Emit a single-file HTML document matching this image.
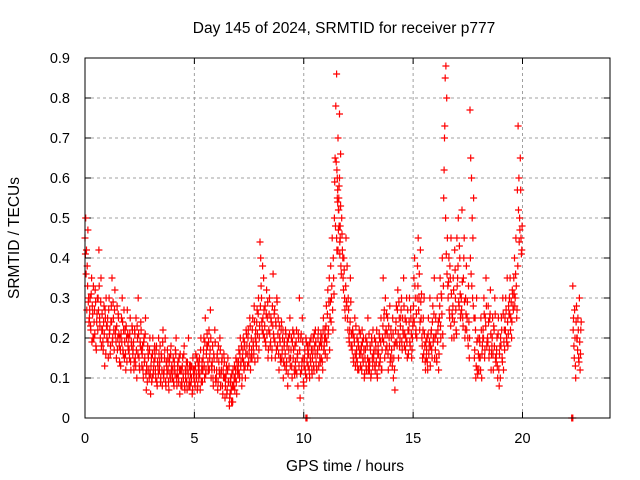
<!DOCTYPE html>
<html><head><meta charset="utf-8"><style>
body{margin:0;background:#fff;}
svg{display:block;font-family:"Liberation Sans",sans-serif;}
</style></head><body>
<svg id="chart" width="640" height="480" viewBox="0 0 640 480" xmlns="http://www.w3.org/2000/svg">
<rect width="640" height="480" fill="#fff"/>
<text x="344" y="33" font-size="15.5" text-anchor="middle">Day 145 of 2024, SRMTID for receiver p777</text>
<text transform="translate(19,238) rotate(-90)" font-size="15.5" text-anchor="middle">SRMTID / TECUs</text>
<text x="345" y="471" font-size="15.5" text-anchor="middle">GPS time / hours</text>
<g id="grid"></g>
<g id="ticks"></g>
<g id="points"></g>
<rect x="85" y="58" width="525" height="360" fill="none" stroke="#000" stroke-width="1"/>
</svg>
<script>
const xTicks=[0,5,10,15,20];
const yTicks=[0,0.1,0.2,0.3,0.4,0.5,0.6,0.7,0.8,0.9];
const yTickLabels=["0","0.1","0.2","0.3","0.4","0.5","0.6","0.7","0.8","0.9"];
const binStarts=[0,0.2,0.4,0.6,0.8,1.0,1.2,1.4,1.6,1.8,2.0,2.2,2.4,2.6,2.8,3.0,3.2,3.4,3.6,3.8,4.0,4.2,4.4,4.6,4.8,5.0,5.2,5.4,5.6,5.8,6.0,6.2,6.4,6.6,6.8,7.0,7.2,7.4,7.6,7.8,8.0,8.2,8.4,8.6,8.8,9.0,9.2,9.4,9.6,9.8,10.0,10.2,10.4,10.6,10.8,11.0,11.2,11.4,11.5,11.6,11.8,12.0,12.2,12.4,12.6,12.8,13.0,13.2,13.4,13.6,13.8,14.0,14.2,14.4,14.6,14.8,15.0,15.2,15.4,15.6,15.8,16.0,16.2,16.4,16.6,16.8,17.0,17.2,17.4,17.6,17.8,18.0,18.2,18.4,18.6,18.8,19.0,19.2,19.4,19.6,19.8,22.3,22.5];
const binValues=[
[.45,.5,.42,.38,.47,.3],[.25,.3,.22,.35,.28,.2],[.2,.27,.32,.18,.24,.3],[.3,.42,.25,.2,.35,.22],[.22,.17,.28,.13,.25,.3],
[.2,.25,.15,.3,.22,.18],[.28,.35,.2,.25,.17,.32],[.22,.15,.28,.2,.25,.18],[.2,.13,.25,.3,.17,.22],[.15,.22,.12,.2,.27,.18],
[.2,.15,.25,.12,.18,.22],[.17,.12,.22,.15,.25,.1],[.2,.3,.15,.12,.18,.22],[.13,.18,.1,.2,.15,.25],[.07,.12,.18,.15,.1,.2],
[.06,.15,.1,.2,.12,.17],[.15,.1,.18,.08,.13,.2],[.12,.18,.1,.15,.08,.22],[.1,.15,.2,.08,.13,.17],[.12,.07,.15,.1,.18,.13],
[.1,.15,.08,.12,.17,.2],[.08,.13,.1,.15,.06,.12],[.12,.08,.15,.1,.18,.07],[.1,.14,.07,.12,.2,.09],[.08,.13,.1,.06,.15,.11],
[.12,.08,.16,.1,.07,.14],[.1,.15,.07,.2,.12,.09],[.15,.2,.1,.25,.12,.18],[.18,.12,.22,.15,.27,.1],[.12,.18,.08,.15,.22,.1],
[.1,.15,.07,.18,.12,.2],[.08,.12,.15,.06,.1,.14],[.05,.1,.13,.07,.15,.09],[.03,.06,.1,.04,.08,.12],[.08,.13,.1,.15,.06,.12],
[.12,.17,.1,.2,.14,.08],[.15,.2,.12,.18,.1,.22],[.18,.13,.22,.16,.25,.12],[.2,.15,.25,.18,.28,.14],[.22,.18,.27,.15,.3,.2],
[.44,.4,.3,.22,.25,.35],[.2,.28,.18,.32,.25,.15],[.22,.3,.18,.25,.15,.28],[.36,.2,.27,.15,.23,.3],[.18,.25,.12,.2,.15,.22],
[.15,.2,.1,.18,.13,.22],[.12,.18,.08,.2,.15,.25],[.15,.2,.1,.22,.17,.12],[.18,.12,.22,.15,.08,.2],[.3,.05,.2,.12,.25,.15],
[.08,.15,.12,.2,.1,.18],[.13,.18,.1,.15,.2,.12],[.15,.2,.12,.18,.22,.14],[.12,.17,.22,.1,.15,.19],[.15,.2,.12,.25,.18,.22],
[.2,.28,.15,.32,.22,.35],[.25,.38,.3,.45,.22,.35],[.5,.65,.78,.45,.55,.7],[.86,.6,.42,.52,.76,.48],[.55,.6,.45,.38,.5,.42],
[.35,.4,.3,.25,.45,.28],[.25,.3,.2,.22,.35,.18],[.18,.22,.15,.2,.25,.13],[.15,.2,.12,.18,.22,.17],[.13,.18,.22,.15,.2,.1],
[.15,.2,.12,.18,.25,.14],[.12,.18,.1,.2,.15,.22],[.15,.2,.12,.17,.22,.1],[.18,.13,.2,.15,.25,.12],[.2,.35,.25,.15,.3,.22],
[.18,.25,.12,.2,.28,.15],[.2,.15,.25,.1,.18,.07],[.22,.28,.18,.32,.15,.25],[.2,.25,.3,.17,.22,.35],[.18,.25,.2,.3,.15,.22],
[.22,.3,.18,.25,.15,.2],[.25,.35,.4,.3,.22,.2],[.38,.45,.3,.22,.42,.25],[.2,.15,.25,.3,.18,.12],[.15,.2,.12,.25,.18,.3],
[.18,.22,.15,.28,.2,.35],[.2,.25,.15,.3,.22,.12],[.25,.35,.2,.3,.4,.18],[.55,.7,.85,.88,.8,.45],[.3,.4,.25,.35,.45,.2],
[.25,.35,.2,.42,.3,.22],[.45,.35,.5,.28,.4,.25],[.3,.52,.25,.35,.45,.2],[.3,.38,.25,.2,.33,.15],[.77,.65,.6,.5,.45,.55],
[.15,.25,.1,.3,.12,.2],[.12,.2,.15,.25,.1,.18],[.22,.3,.15,.25,.35,.18],[.2,.28,.15,.25,.32,.12],[.18,.25,.12,.22,.3,.15],
[.15,.2,.1,.25,.08,.18],[.2,.25,.15,.3,.12,.22],[.25,.3,.2,.35,.18,.28],[.3,.35,.25,.2,.32,.28],[.35,.4,.3,.45,.25,.57],
[.73,.6,.5,.65,.45,.42],[.33,.25,.15,.2,.1,.28],[.2,.25,.15,.3,.12,.22]];
const binValues2=[
[.41,.36,.27,.33,.29,.24],[.27,.23,.31,.19,.26,.33],[.24,.21,.29,.17,.26,.22],[.27,.33,.23,.29,.18,.26],[.19,.24,.21,.27,.16,.23],
[.23,.19,.27,.21,.16,.24],[.24,.19,.29,.22,.27,.21],[.19,.23,.17,.26,.21,.14],[.17,.21,.19,.24,.16,.27],[.19,.16,.23,.14,.21,.17],
[.17,.21,.14,.19,.23,.16],[.19,.14,.21,.13,.17,.23],[.16,.21,.13,.19,.24,.17],[.16,.12,.19,.14,.21,.11],[.13,.09,.16,.12,.17,.11],
[.13,.09,.16,.11,.14,.18],[.12,.17,.09,.14,.11,.16],[.14,.09,.16,.12,.19,.11],[.12,.17,.09,.14,.11,.15],[.09,.14,.11,.16,.12,.1],
[.12,.09,.14,.11,.16,.1],[.11,.14,.09,.12,.16,.08],[.09,.13,.11,.16,.08,.12],[.12,.09,.14,.11,.08,.13],[.11,.09,.13,.07,.12,.1],
[.09,.13,.11,.15,.08,.12],[.13,.11,.17,.09,.14,.12],[.17,.13,.19,.11,.16,.21],[.14,.19,.12,.17,.2,.13],[.14,.1,.16,.12,.19,.09],
[.12,.16,.09,.14,.11,.17],[.11,.14,.08,.12,.16,.1],[.08,.11,.06,.12,.09,.13],[.05,.09,.07,.11,.04,.08],[.1,.07,.12,.09,.14,.11],
[.14,.11,.16,.13,.18,.1],[.17,.14,.19,.13,.16,.21],[.16,.2,.14,.18,.23,.15],[.17,.22,.19,.16,.24,.2],[.19,.24,.21,.26,.17,.23],
[.28,.33,.24,.38,.21,.27],[.23,.19,.26,.21,.29,.17],[.26,.21,.19,.24,.17,.23],[.21,.26,.19,.24,.17,.29],[.21,.16,.23,.19,.14,.24],
[.17,.22,.14,.19,.16,.21],[.14,.19,.11,.17,.21,.13],[.17,.13,.19,.15,.21,.11],[.14,.19,.11,.16,.21,.13],[.17,.11,.21,.14,.19,.09],
[.13,.17,.11,.19,.14,.16],[.16,.12,.19,.14,.17,.11],[.17,.13,.21,.16,.19,.12],[.16,.2,.13,.18,.14,.21],[.18,.14,.22,.17,.2,.16],
[.23,.19,.26,.21,.29,.17],[.29,.24,.33,.27,.4,.31],[.59,.48,.64,.42,.57,.52],[.62,.54,.47,.58,.44,.66],[.48,.41,.53,.36,.46,.4],
[.32,.37,.27,.33,.29,.38],[.22,.27,.19,.24,.29,.21],[.17,.21,.14,.19,.16,.23],[.17,.14,.19,.12,.16,.21],[.16,.12,.19,.14,.17,.11],
[.17,.13,.19,.15,.12,.21],[.14,.17,.11,.19,.13,.16],[.17,.13,.19,.14,.11,.16],[.16,.21,.14,.19,.12,.17],[.23,.19,.27,.21,.17,.26],
[.21,.16,.23,.18,.14,.22],[.17,.13,.21,.15,.12,.19],[.24,.19,.27,.21,.29,.18],[.23,.27,.19,.25,.21,.28],[.21,.17,.24,.19,.27,.16],
[.24,.19,.27,.21,.17,.23],[.28,.24,.33,.21,.26,.3],[.33,.27,.36,.24,.29,.31],[.18,.22,.16,.21,.14,.19],[.17,.14,.21,.16,.19,.13],
[.21,.17,.24,.19,.26,.15],[.17,.21,.14,.19,.24,.16],[.28,.23,.31,.26,.21,.33],[.62,.73,.5,.41,.36,.33],[.34,.27,.38,.23,.31,.26],
[.28,.32,.24,.37,.27,.21],[.33,.38,.29,.43,.31,.26],[.27,.34,.23,.4,.29,.22],[.26,.22,.29,.18,.24,.2],[.4,.36,.33,.3,.28,.25],
[.17,.22,.13,.19,.11,.16],[.15,.19,.12,.22,.16,.2],[.2,.26,.17,.23,.28,.19],[.19,.24,.17,.26,.21,.16],[.2,.16,.23,.18,.26,.14],
[.17,.13,.21,.12,.16,.1],[.18,.22,.14,.26,.19,.17],[.22,.27,.19,.24,.21,.26],[.26,.22,.29,.24,.31,.27],[.31,.28,.36,.33,.27,.38],
[.52,.44,.47,.57,.41,.48],[.22,.18,.27,.13,.24,.2],[.17,.22,.14,.19,.16,.24]];
const zeroTimes=[10.1,10.15,22.25,22.3];

const NS="http://www.w3.org/2000/svg";
const X0=85,X1=610,Y0=418,Y1=58;
function xs(t){return X0+(t/24)*(X1-X0);}
function ys(v){return Y0-(v/0.9)*(Y0-Y1);}
const grid=document.getElementById('grid'),ticks=document.getElementById('ticks'),pts=document.getElementById('points');
function mk(tag,attrs,parent){const e=document.createElementNS(NS,tag);for(const k in attrs)e.setAttribute(k,attrs[k]);parent.appendChild(e);return e;}
yTicks.forEach((v,i)=>{
  const y=ys(v);
  if(i>0&&i<yTicks.length-1){const g=mk('line',{x1:X0,x2:X1,y1:y,y2:y,stroke:'#a0a0a0','stroke-dasharray':'3,3'},grid);
  
  }
  mk('line',{x1:X0,x2:X0+6,y1:y,y2:y,stroke:'#000'},ticks);
  mk('line',{x1:X1,x2:X1-6,y1:y,y2:y,stroke:'#000'},ticks);
  const t=mk('text',{x:X0-15,y:y+5,'font-size':'14.5','text-anchor':'end'},ticks);t.textContent=yTickLabels[i];
  
  
});
xTicks.forEach(v=>{
  const x=xs(v);
  if(v>0){const g=mk('line',{x1:x,x2:x,y1:Y0,y2:Y1,stroke:'#a0a0a0','stroke-dasharray':'3,3'},grid);
  
  }
  mk('line',{x1:x,x2:x,y1:Y0,y2:Y0-6,stroke:'#000'},ticks);
  mk('line',{x1:x,x2:x,y1:Y1,y2:Y1+6,stroke:'#000'},ticks);
  const t=mk('text',{x:x,y:Y0+25,'font-size':'14.5','text-anchor':'middle'},ticks);t.textContent=String(v);
  
  
});
let d='';
function plus(t,v){const x=xs(t),y=ys(v);d+=`M${(x-3.5).toFixed(1)} ${y.toFixed(1)}h7M${x.toFixed(1)} ${(y-3.5).toFixed(1)}v7`;}
binStarts.forEach((t0,i)=>{const vals=binValues[i];vals.forEach((v,j)=>plus(t0+0.2*j/vals.length,v));});
binStarts.forEach((t0,i)=>{const vals=binValues2[i];vals.forEach((v,j)=>plus(t0+0.2*(j+0.5)/vals.length,v));});
zeroTimes.forEach(t=>plus(t,0));
const p=mk('path',{d:d,stroke:'#ff0000','stroke-width':'1.2',fill:'none'},pts);


</script>
</body></html>
